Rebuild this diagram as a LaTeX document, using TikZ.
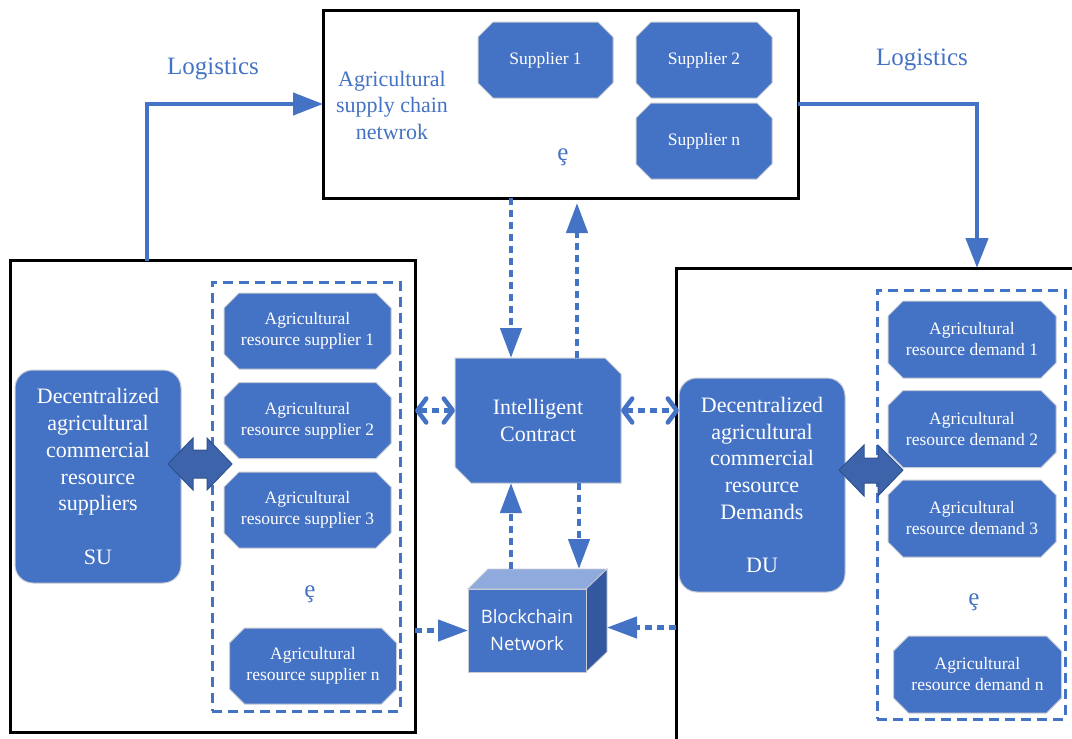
\documentclass[tikz,border=0pt]{standalone}
\usepackage{fontspec}
\setmainfont{Liberation Serif}
\newfontfamily\osans{Open Sans}
\usetikzlibrary{arrows.meta,calc}
\definecolor{myblue}{HTML}{4472C4}
\definecolor{dblue}{HTML}{3D63AB}
\definecolor{dedge}{HTML}{2F528F}
\definecolor{ltop}{HTML}{8FAADC}
\definecolor{dside}{HTML}{3358A0}
\definecolor{oedge}{HTML}{C8CCD4}
% octagon: name, cx, cy, w, h, chamfer, text
\newcommand\mkoct[7]{%
  \fill[octf] ({#2-#4/2+#6},{#3-#5/2}) -- ({#2+#4/2-#6},{#3-#5/2}) -- ({#2+#4/2},{#3-#5/2+#6})
    -- ({#2+#4/2},{#3+#5/2-#6}) -- ({#2+#4/2-#6},{#3+#5/2}) -- ({#2-#4/2+#6},{#3+#5/2})
    -- ({#2-#4/2},{#3+#5/2-#6}) -- ({#2-#4/2},{#3-#5/2+#6}) -- cycle;
  \node[octt,minimum width=#4pt,minimum height=#5pt] (#1) at (#2,#3) {#7};}
\begin{document}
\begin{tikzpicture}[x=1pt,y=-1pt,
  blk/.style={draw=black,line width=3pt,inner sep=0pt,outer sep=0pt},
  dbox/.style={draw=myblue,line width=3pt,dash pattern=on 10pt off 6pt,inner sep=0pt,outer sep=0pt},
  octf/.style={fill=myblue,draw=oedge,line width=1pt},
  octt/.style={text=white,align=center,inner sep=0pt,outer sep=0pt,font=\fontsize{17.5}{21}\selectfont},
  rbox/.style={rounded corners=18pt,fill=myblue,draw=oedge,line width=1pt,text=white,align=center,
    inner sep=0pt,outer sep=0pt,font=\fontsize{22}{26.7}\selectfont},
  lbl/.style={text=myblue,align=center,font=\fontsize{22}{26.5}\selectfont},
  ell/.style={text=myblue,font=\fontsize{25}{26}\selectfont},
  logi/.style={draw=myblue,line width=4.5pt,-{Triangle[length=30pt,width=22pt]}},
  dotl/.style={draw=myblue,line width=4.5pt,dash pattern=on 7pt off 5pt},
  dotarr/.style={dotl,-{Triangle[length=30pt,width=21pt]}},
  chev/.style={dotl,{Straight Barb[length=9pt,width=24pt,round]}-{Straight Barb[length=9pt,width=24pt,round]}},
  dblarr/.style={fill=dblue,draw=dedge,line width=1pt}
]
\useasboundingbox (0,0) rectangle (1072,739);
\clip (0,0) rectangle (1072,739);

% main frames
\node[blk,minimum width=475pt,minimum height=188pt] (top) at (560.5,104) {};
\node[blk,minimum width=405pt,minimum height=471.5pt] (lbox) at (212.5,496.25) {};
\node[blk,minimum width=409pt,minimum height=482pt] (rbox) at (880.5,509) {};

% top box content
\node[lbl] (asc) at (392,105) {Agricultural\\supply chain\\netwrok};
\mkoct{s1}{545.5}{60}{135}{76}{15}{Supplier 1}
\mkoct{s2}{704}{60}{136}{76}{15}{Supplier 2}
\mkoct{sn}{704}{141}{136}{76}{15}{Supplier n}
\node[ell] (e0) at (563,157) {ȩ};

% logistics
\node[text=myblue,font=\fontsize{25}{28}\selectfont] (log1) at (213,69) {Logistics};
\node[text=myblue,font=\fontsize{25}{28}\selectfont] (log2) at (922,60) {Logistics};
\draw[logi] ([xshift=137pt]lbox.north west) |- (top.west);
\coordinate (rin) at ([xshift=301pt]rbox.north west);
\draw[logi] (top.east) -| (rin);

% left side
\node[dbox,minimum width=188pt,minimum height=429pt] (ldash) at (306,496.5) {};
\node[rbox,minimum width=166pt,minimum height=213pt] (su) at (98,476.5)
  {Decentralized\\agricultural\\commercial\\resource\\suppliers\\[26.7pt]SU};
\mkoct{l1}{307.5}{331}{167}{76}{15}{Agricultural\\resource supplier 1}
\mkoct{l2}{307.5}{420.5}{167}{76}{15}{Agricultural\\resource supplier 2}
\mkoct{l3}{307.5}{510}{167}{76}{15}{Agricultural\\resource supplier 3}
\mkoct{ln}{313}{666}{167}{76}{15}{Agricultural\\resource supplier n}
\node[ell] (e1) at (310,594) {ȩ};
\draw[dblarr] (168,464) -- (193,438) -- (193,450) -- (207,450) -- (207,438) -- (232,464)
  -- (207,490) -- (207,478) -- (193,478) -- (193,490) -- cycle;

% right side
\node[dbox,minimum width=188pt,minimum height=429pt] (rdash) at (971,504.5) {};
\node[rbox,minimum width=166pt,minimum height=214pt] (du) at (762,485)
  {Decentralized\\agricultural\\commercial\\resource\\Demands\\[26.7pt]DU};
\mkoct{r1}{972}{339.5}{168}{77}{15}{Agricultural\\resource demand 1}
\mkoct{r2}{972}{429}{168}{77}{15}{Agricultural\\resource demand 2}
\mkoct{r3}{972}{518.5}{168}{77}{15}{Agricultural\\resource demand 3}
\mkoct{rn}{977.5}{674.5}{168}{77}{15}{Agricultural\\resource demand n}
\node[ell] (e2) at (974,602) {ȩ};
\draw[dblarr] (839,470) -- (864,445) -- (864,458) -- (878,458) -- (878,445) -- (903,470)
  -- (878,496) -- (878,483) -- (864,483) -- (864,496) -- cycle;

% intelligent contract
\fill[octf] (455,358) -- (605,358) -- (621,374) -- (621,483) -- (471,483) -- (455,467) -- cycle;
\node[text=white,align=center,inner sep=0pt,outer sep=0pt,minimum width=166pt,minimum height=125pt,
  font=\fontsize{22}{26.5}\selectfont] (ic) at (538,420.5) {Intelligent\\Contract};

% blockchain cube
\fill[ltop,draw=oedge,line width=0.8pt] (468,589) -- (488,569) -- (607,569) -- (586,589) -- cycle;
\fill[dside,draw=oedge,line width=0.8pt] (586,589) -- (607,569) -- (607,652) -- (586,672) -- cycle;
\node[fill=myblue,draw=oedge,line width=0.8pt,minimum width=118pt,minimum height=83pt,inner sep=0pt,outer sep=0pt,
  text=white,align=center,font=\osans\fontsize{18.5}{27}\selectfont] (bc) at (527,630.5) {Blockchain\\Network};
\coordinate (bctop) at ([yshift=20pt]bc.north);
\coordinate (bcside) at ([xshift=21pt,yshift=3pt]bc.east);

% dotted connectors
\coordinate (a1) at ([xshift=-27pt]ic.north);
\coordinate (a2) at ([xshift=39pt]ic.north);
\coordinate (a3) at ([xshift=41pt]ic.south);
\draw[dotarr] (a1 |- top.south) -- (a1);
\draw[dotarr] (a2) -- ([yshift=-5pt]a2 |- top.south);
\draw[dotarr] (a1 |- bctop) -- (a1 |- ic.south);
\draw[dotarr] (a3) -- (a3 |- bctop);
\draw[dotarr] (lbox.east |- bc.west) -- (bc.west);
\draw[dotarr] (rbox.west |- bcside) -- (bcside);
\coordinate (c1) at ([yshift=10pt]ic.west);
\coordinate (c2) at ([yshift=10pt]ic.east);
\draw[chev] (lbox.east |- c1) -- (c1);
\draw[chev] (c2) -- (c2 -| du.west);
\end{tikzpicture}
\end{document}
